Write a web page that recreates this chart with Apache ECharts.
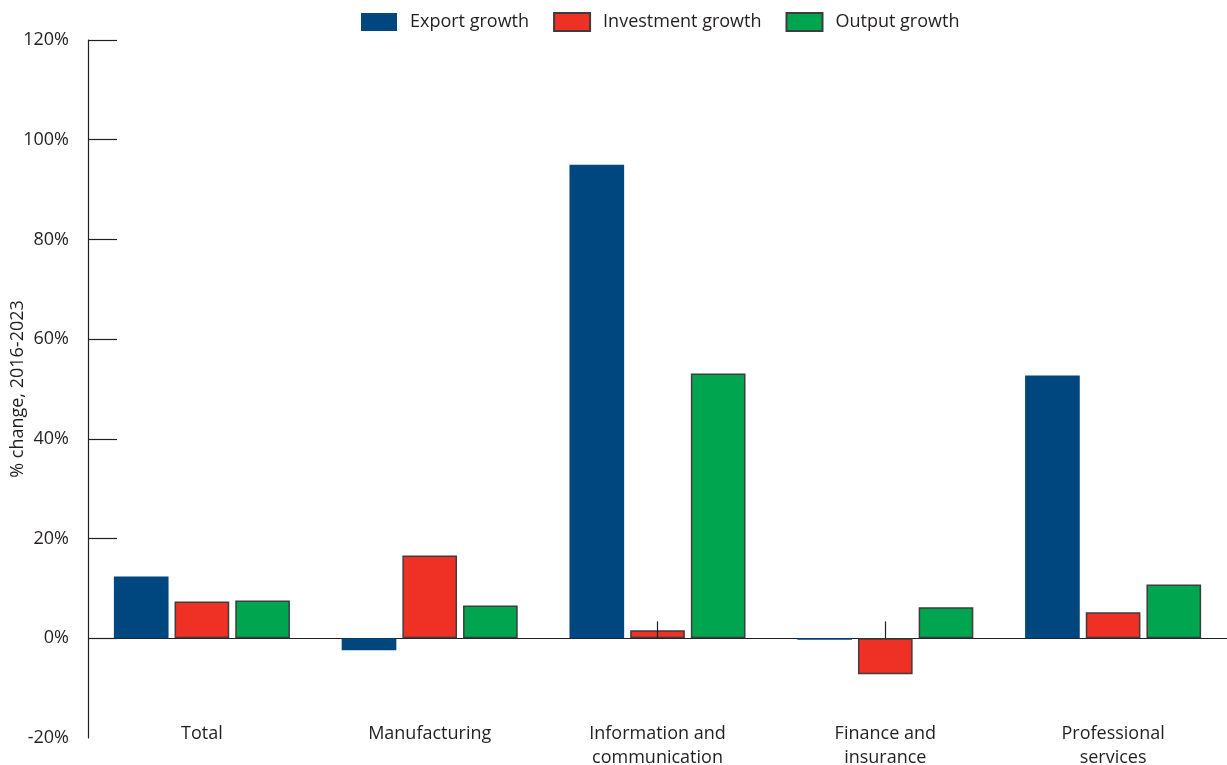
<!DOCTYPE html>
<html>
<head>
<meta charset="utf-8">
<script src="https://cdn.jsdelivr.net/npm/echarts@6/dist/echarts.min.js"></script>
<style>html,body{margin:0;padding:0;background:#fff}#c{width:1227px;height:765px}</style>
</head>
<body>
<div id="c"></div>
<script>
const categories = ['Total', 'Manufacturing', 'Information and\ncommunication', 'Finance and\ninsurance', 'Professional\nservices'];
const exportGrowth = [12.4, -2.4, 95.0, -0.3, 52.7];
const investmentGrowth = [7.4, 16.6, 1.6, -7.2, 5.2];
const outputGrowth = [7.6, 6.6, 53.1, 6.2, 10.8];
const yTicks = [0, 20, 40, 60, 80, 100, 120];
// small vertical marker lines drawn above the investment bars
const markerCats = [2, 3];
const markerTop = 3.4;

const txt = '#231f20';
const font = 'Open Sans';
const fs = 18;
const bw = '24%';
const chart = echarts.init(document.getElementById('c'));
chart.setOption({
  animation: false,
  textStyle: { fontFamily: font },
  legend: {
    top: 12, left: 361, icon: 'rect', padding: 0,
    itemWidth: 36, itemHeight: 18, itemGap: 24,
    textStyle: { fontSize: fs, color: txt, fontFamily: font, padding: [0, 0, 0, 8] },
    data: ['Export growth', 'Investment growth', 'Output growth']
  },
  grid: { left: 88, right: 0, top: 40, bottom: 27, containLabel: false, outerBoundsMode: 'none' },
  xAxis: {
    type: 'category', data: categories,
    axisLine: { show: false }, axisTick: { show: false },
    axisLabel: { margin: -16, fontSize: fs, color: txt, lineHeight: 24, fontFamily: font, verticalAlign: 'top' }
  },
  yAxis: {
    type: 'value', min: -20, max: 120, interval: 20,
    name: '% change, 2016-2023', nameLocation: 'middle', nameGap: 61, nameRotate: 90, nameMoveOverlap: false,
    nameTextStyle: { fontSize: fs, color: txt, fontFamily: font },
    axisLine: { show: true, lineStyle: { color: txt, width: 1.2 } },
    axisTick: { show: true, inside: true, length: 29, customValues: yTicks, lineStyle: { color: txt, width: 1.2 } },
    axisLabel: { formatter: '{value}%', fontSize: fs, color: txt, margin: 19, fontFamily: font },
    splitLine: { show: false }
  },
  series: [
    {
      name: 'Export growth', type: 'bar', data: exportGrowth, barWidth: bw, barGap: '11%',
      itemStyle: { color: '#00467f' },
      markLine: {
        silent: true, symbol: 'none', label: { show: false },
        lineStyle: { color: txt, width: 1.2, type: 'solid' },
        data: [{ yAxis: 0 }],
        z: 1
      }
    },
    {
      name: 'Investment growth', type: 'bar', data: investmentGrowth, barWidth: bw, barGap: '11%',
      itemStyle: { color: '#ee3124', borderColor: '#3d3d3d', borderWidth: 1.5 },
      markLine: {
        silent: true, symbol: 'none', label: { show: false },
        lineStyle: { color: txt, width: 1.2, type: 'solid' },
        data: markerCats.map(i => [{ coord: [categories[i], 0] }, { coord: [categories[i], markerTop] }])
      }
    },
    {
      name: 'Output growth', type: 'bar', data: outputGrowth, barWidth: bw, barGap: '11%',
      itemStyle: { color: '#00a550', borderColor: '#3d3d3d', borderWidth: 1.5 }
    }
  ]
});
</script>
</body>
</html>
